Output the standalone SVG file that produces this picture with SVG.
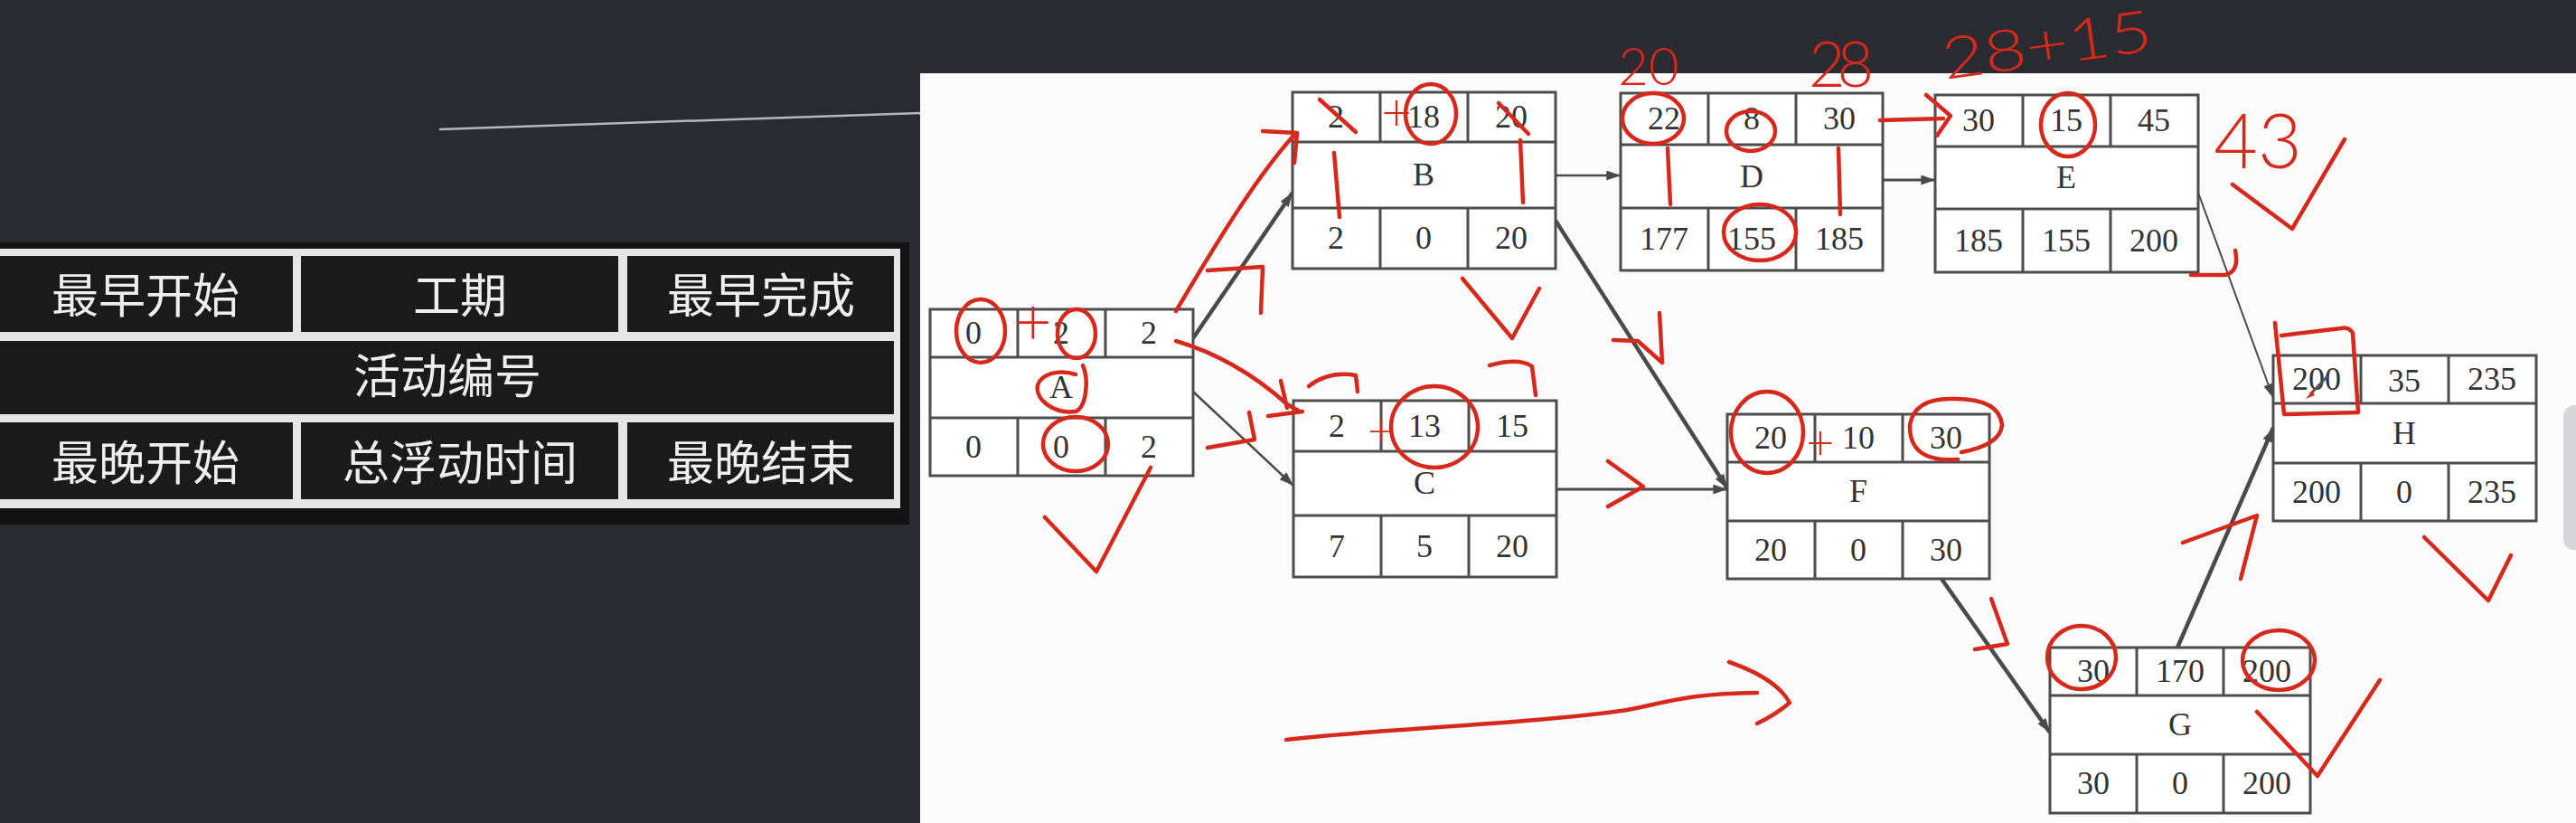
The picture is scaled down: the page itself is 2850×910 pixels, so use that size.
<svg xmlns="http://www.w3.org/2000/svg" width="2850" height="910" viewBox="0 0 2850 910">
<style>
.cell{fill:none;stroke:#4d4d4d;stroke-width:3}
.bg{fill:#ffffff}
.num{font-family:"Liberation Serif","Times New Roman",serif;font-size:36px;fill:#333;text-anchor:middle}
.tc{font-family:"Noto Sans CJK SC","Noto Sans",sans-serif;font-size:52px;fill:#eeeeee;text-anchor:middle}
.conn{stroke:#4a4a4a;fill:none}
.pen{fill:none;stroke:#d7281c;stroke-width:4.5;stroke-linecap:round;stroke-linejoin:round}
.hw{font-family:Lato,"Noto Sans",sans-serif;font-weight:300;fill:#d7281c;text-anchor:middle}
.hws{font-family:Lato,"Noto Sans",sans-serif;font-weight:300;fill:#d7281c;text-anchor:start}
</style>
<defs>
<marker id="ah" viewBox="0 0 10 7" refX="10" refY="3.5" markerWidth="24" markerHeight="11" markerUnits="userSpaceOnUse" orient="auto">
<path d="M0,0 L10,3.5 L0,7 z" fill="#4a4a4a"/>
</marker>
</defs>
<rect x="0" y="0" width="2850" height="910" fill="#2a2b30"/>
<line x1="486" y1="143" x2="1018" y2="125" stroke="#b8b8bc" stroke-width="2.5"/>
<rect x="1018" y="81" width="1832" height="829" fill="#fbfbfb"/>
<rect x="2836" y="448" width="30" height="160" rx="12" fill="#d6d6d8"/>

<g id="legend">
<rect x="0" y="268" width="1006" height="312" fill="#121212"/>
<rect x="0" y="275" width="996" height="287" fill="#e6e6e6"/>
<rect x="0" y="283" width="324" height="84" fill="#1a1a1a"/>
<rect x="333" y="283" width="351" height="84" fill="#1a1a1a"/>
<rect x="694" y="283" width="295" height="84" fill="#1a1a1a"/>
<rect x="0" y="377" width="989" height="81" fill="#1a1a1a"/>
<rect x="0" y="467" width="324" height="85" fill="#1a1a1a"/>
<rect x="333" y="467" width="351" height="85" fill="#1a1a1a"/>
<rect x="694" y="467" width="295" height="85" fill="#1a1a1a"/>
<text class="tc" x="161" y="346">最早开始</text>
<text class="tc" x="509" y="346">工期</text>
<text class="tc" x="842" y="346">最早完成</text>
<text class="tc" x="495" y="435">活动编号</text>
<text class="tc" x="161" y="531">最晚开始</text>
<text class="tc" x="509" y="531">总浮动时间</text>
<text class="tc" x="842" y="531">最晚结束</text>
</g>

<g id="connectors">
<line class="conn" x1="1320" y1="374" x2="1430" y2="213" stroke-width="4.5" marker-end="url(#ah)"/>
<line class="conn" x1="1320" y1="433" x2="1431" y2="537" stroke-width="2.5" marker-end="url(#ah)"/>
<line class="conn" x1="1721" y1="194" x2="1793" y2="194" stroke-width="2.5" marker-end="url(#ah)"/>
<line class="conn" x1="1721" y1="244" x2="1911" y2="540" stroke-width="4.5" marker-end="url(#ah)"/>
<line class="conn" x1="1722" y1="541" x2="1911" y2="541" stroke-width="3" marker-end="url(#ah)"/>
<line class="conn" x1="2083" y1="199" x2="2141" y2="199" stroke-width="3" marker-end="url(#ah)"/>
<line class="conn" x1="2432" y1="213" x2="2515" y2="440" stroke-width="2" marker-end="url(#ah)"/>
<line class="conn" x1="2148" y1="640" x2="2268" y2="810" stroke-width="4.5" marker-end="url(#ah)"/>
<line class="conn" x1="2409" y1="716" x2="2515" y2="473" stroke-width="4.5" marker-end="url(#ah)"/>
</g>

<g id="node-A">
<rect class="bg" x="1029" y="342" width="291" height="184"/>
<rect class="cell" x="1029" y="342" width="291" height="184"/>
<path class="cell" d="M1029,395 H1320 M1029,462 H1320 M1126,342 V395 M1223,342 V395 M1126,462 V526 M1223,462 V526"/>
<text class="num" x="1077" y="380">0</text><text class="num" x="1174" y="380">2</text><text class="num" x="1271" y="380">2</text>
<text class="num" x="1174" y="440">A</text>
<text class="num" x="1077" y="506">0</text><text class="num" x="1174" y="506">0</text><text class="num" x="1271" y="506">2</text>
</g>

<g id="node-B">
<rect class="bg" x="1430" y="102" width="291" height="195"/>
<rect class="cell" x="1430" y="102" width="291" height="195"/>
<path class="cell" d="M1430,157 H1721 M1430,230 H1721 M1527,102 V157 M1624,102 V157 M1527,230 V297 M1624,230 V297"/>
<text class="num" x="1478" y="141">2</text><text class="num" x="1575" y="141">18</text><text class="num" x="1672" y="141">20</text>
<text class="num" x="1575" y="205">B</text>
<text class="num" x="1478" y="275">2</text><text class="num" x="1575" y="275">0</text><text class="num" x="1672" y="275">20</text>
</g>

<g id="node-C">
<rect class="bg" x="1431" y="443" width="291" height="195"/>
<rect class="cell" x="1431" y="443" width="291" height="195"/>
<path class="cell" d="M1431,499 H1722 M1431,570 H1722 M1528,443 V499 M1625,443 V499 M1528,570 V638 M1625,570 V638"/>
<text class="num" x="1479" y="483">2</text><text class="num" x="1576" y="483">13</text><text class="num" x="1673" y="483">15</text>
<text class="num" x="1576" y="546">C</text>
<text class="num" x="1479" y="616">7</text><text class="num" x="1576" y="616">5</text><text class="num" x="1673" y="616">20</text>
</g>

<g id="node-D">
<rect class="bg" x="1793" y="103" width="290" height="196"/>
<rect class="cell" x="1793" y="103" width="290" height="196"/>
<path class="cell" d="M1793,160 H2083 M1793,230 H2083 M1890,103 V160 M1987,103 V160 M1890,230 V299 M1987,230 V299"/>
<text class="num" x="1841" y="143">22</text><text class="num" x="1938" y="143">8</text><text class="num" x="2035" y="143">30</text>
<text class="num" x="1938" y="207">D</text>
<text class="num" x="1841" y="276">177</text><text class="num" x="1938" y="276">155</text><text class="num" x="2035" y="276">185</text>
</g>

<g id="node-E">
<rect class="bg" x="2141" y="105" width="291" height="196"/>
<rect class="cell" x="2141" y="105" width="291" height="196"/>
<path class="cell" d="M2141,162 H2432 M2141,231 H2432 M2238,105 V162 M2335,105 V162 M2238,231 V301 M2335,231 V301"/>
<text class="num" x="2189" y="145">30</text><text class="num" x="2286" y="145">15</text><text class="num" x="2383" y="145">45</text>
<text class="num" x="2286" y="208">E</text>
<text class="num" x="2189" y="278">185</text><text class="num" x="2286" y="278">155</text><text class="num" x="2383" y="278">200</text>
</g>

<g id="node-F">
<rect class="bg" x="1911" y="458" width="290" height="182"/>
<rect class="cell" x="1911" y="458" width="290" height="182"/>
<path class="cell" d="M1911,511 H2201 M1911,576 H2201 M2008,458 V511 M2105,458 V511 M2008,576 V640 M2105,576 V640"/>
<text class="num" x="1959" y="496">20</text><text class="num" x="2056" y="496">10</text><text class="num" x="2153" y="496">30</text>
<text class="num" x="2056" y="555">F</text>
<text class="num" x="1959" y="620">20</text><text class="num" x="2056" y="620">0</text><text class="num" x="2153" y="620">30</text>
</g>

<g id="node-G">
<rect class="bg" x="2268" y="716" width="288" height="183"/>
<rect class="cell" x="2268" y="716" width="288" height="183"/>
<path class="cell" d="M2268,769 H2556 M2268,834 H2556 M2364,716 V769 M2460,716 V769 M2364,834 V899 M2460,834 V899"/>
<text class="num" x="2316" y="754">30</text><text class="num" x="2412" y="754">170</text><text class="num" x="2508" y="754">200</text>
<text class="num" x="2412" y="813">G</text>
<text class="num" x="2316" y="878">30</text><text class="num" x="2412" y="878">0</text><text class="num" x="2508" y="878">200</text>
</g>

<g id="node-H">
<rect class="bg" x="2515" y="393" width="291" height="183"/>
<rect class="cell" x="2515" y="393" width="291" height="183"/>
<path class="cell" d="M2515,446 H2806 M2515,512 H2806 M2612,393 V446 M2709,393 V446 M2612,512 V576 M2709,512 V576"/>
<text class="num" x="2563" y="431">200</text><text class="num" x="2660" y="433">35</text><text class="num" x="2757" y="431">235</text>
<text class="num" x="2660" y="491">H</text>
<text class="num" x="2563" y="556">200</text><text class="num" x="2660" y="556">0</text><text class="num" x="2757" y="556">235</text>
<path d="M2575,416 L2556,436" stroke="#555" stroke-width="3" fill="none"/>
<path d="M2551,441 L2558,432 L2561,437 z" fill="#d7281c"/>
</g>

<g id="annotations">
<ellipse class="pen" cx="1085" cy="366" rx="27" ry="35"/>
<text class="hw" x="1143" y="381" font-size="72">+</text>
<ellipse class="pen" cx="1191" cy="369" rx="21" ry="27"/>
<path class="pen" d="M1198,404 C1205,420 1202,450 1190,455 C1166,458 1145,442 1148,426 C1152,413 1172,408 1190,414"/>
<ellipse class="pen" cx="1190" cy="491" rx="36" ry="30"/>
<path class="pen" d="M1156,572 L1213,632 L1273,517"/>
<path class="pen" d="M1301,344 C1345,270 1390,195 1433,148 M1397,145 L1435,147 L1432,180"/>
<path class="pen" d="M1336,299 L1397,295 L1395,346"/>
<path class="pen" d="M1301,377 C1345,390 1385,412 1424,447 L1438,455 M1417,421 L1424,451 M1403,460 L1441,455"/>
<path class="pen" d="M1448,427 Q1470,410 1500,415 L1502,433"/>
<path class="pen" d="M1336,495 L1388,486 L1382,456"/>
<text class="hw" x="1528" y="494" font-size="52">+</text>
<ellipse class="pen" cx="1587" cy="472" rx="48" ry="45"/>
<path class="pen" d="M1648,404 Q1680,395 1695,405 L1699,437"/>
<path class="pen" d="M1460,110 L1500,146"/>
<text class="hw" x="1545" y="144" font-size="58">+</text>
<ellipse class="pen" cx="1583" cy="126" rx="28" ry="33"/>
<path class="pen" d="M1658,114 L1691,148"/>
<path class="pen" d="M1476,169 L1482,240 M1682,155 L1685,224"/>
<path class="pen" d="M1618,308 L1673,374 L1703,319"/>
<path class="pen" d="M1785,376 L1812,377 L1839,401 L1836,346"/>
<path class="pen" d="M1779,510 L1818,538 L1779,560"/>
<ellipse class="pen" cx="1829" cy="131" rx="34" ry="28"/>
<text class="hw" x="1824" y="94" font-size="58">20</text>
<ellipse class="pen" cx="1937" cy="145" rx="27" ry="22"/>
<ellipse class="pen" cx="1947" cy="257" rx="40" ry="31"/>
<path class="pen" d="M1845,164 L1848,226 M2034,164 L2036,237"/>
<text class="hw" x="2037" y="96" font-size="70" textLength="72">28</text>
<path class="pen" d="M2080,133 L2150,131 M2131,105 L2158,128 L2143,150"/>
<ellipse class="pen" cx="2288" cy="138" rx="30" ry="35"/>
<text class="hws" x="2152" y="88" font-size="64" textLength="234" lengthAdjust="spacingAndGlyphs" transform="rotate(-8 2152 88)">28+15</text>
<text class="hw" x="2498" y="186" font-size="84">43</text>
<path class="pen" d="M2470,204 L2536,253 L2594,154"/>
<path class="pen" d="M2473,277 Q2478,300 2462,304 L2424,304"/>
<path class="pen" d="M2517,357 L2527,458 L2609,456 L2603,368 Q2598,361 2590,363 L2524,371"/>
<path class="pen" d="M2682,594 L2753,664 L2778,614"/>
<ellipse class="pen" cx="1955" cy="478" rx="40" ry="45"/>
<text class="hw" x="2014" y="508" font-size="54">+</text>
<path class="pen" d="M2166,508 Q2112,512 2113,470 Q2118,440 2160,441 Q2212,440 2215,470 Q2213,492 2170,500"/>
<path class="pen" d="M2203,662 L2221,712 L2185,718"/>
<ellipse class="pen" cx="2303" cy="727" rx="38" ry="35"/>
<ellipse class="pen" cx="2521" cy="730" rx="40" ry="33"/>
<path class="pen" d="M2415,600 L2497,570 L2479,640"/>
<path class="pen" d="M2497,787 L2564,858 L2633,752"/>
<path class="pen" d="M1423,818 C1520,806 1700,800 1800,785 C1850,775 1870,767 1944,766 M1913,732 Q1965,750 1980,777 Q1965,790 1944,800"/>
</g>
</svg>
